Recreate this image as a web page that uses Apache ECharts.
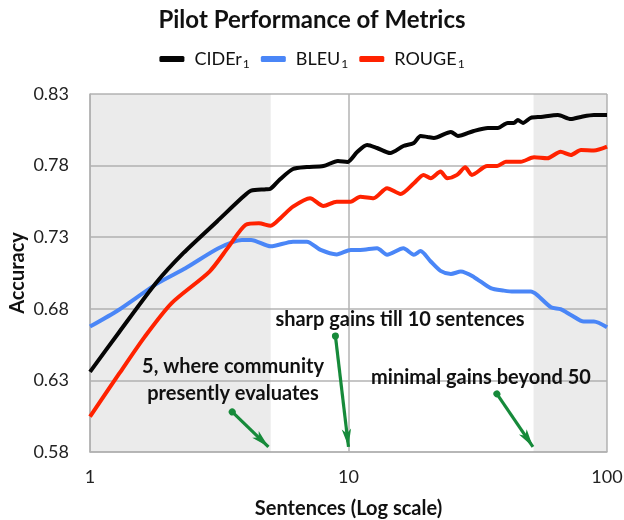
<!DOCTYPE html>
<html>
<head>
<meta charset="utf-8">
<script src="https://cdn.jsdelivr.net/npm/echarts@6/dist/echarts.min.js"></script>
<style>
  html, body { margin: 0; padding: 0; background: #fff; }
  #chart { width: 624px; height: 520px; }
</style>
</head>
<body>
<div id="chart"></div>
<script>
// values (x = sentences, y = accuracy)
var ciderX = [1, 1.3, 1.8, 2.3, 3.1, 3.9, 4.2, 4.8, 5.0, 5.4, 6.1, 6.9, 8.0, 9.1, 9.9, 10.8, 11.8, 12.9, 14.5, 16.3, 17.9, 19.0, 20.2, 21.4, 24.9, 26.5, 30.5, 34.6, 37.8, 41.3, 43.6, 45.2, 47.3, 50.7, 55.5, 64.6, 72.5, 79.3, 89, 100];
var ciderY = [0.636, 0.664, 0.698, 0.719, 0.741, 0.758, 0.7625, 0.7635, 0.764, 0.770, 0.7776, 0.779, 0.7797, 0.7832, 0.7825, 0.7895, 0.7944, 0.7923, 0.7888, 0.7937, 0.7958, 0.8007, 0.800, 0.7993, 0.8035, 0.8007, 0.8042, 0.8063, 0.8063, 0.8098, 0.8098, 0.8118, 0.8098, 0.8133, 0.814, 0.8153, 0.8125, 0.814, 0.8153, 0.8153];

var bleuX = [1, 1.29, 1.81, 2.34, 3.14, 3.87, 4.2, 5.0, 6.1, 6.9, 7.8, 9.0, 10.2, 11.1, 12.9, 14.1, 16.3, 17.9, 19.0, 20.8, 22.7, 24.9, 27.2, 30.6, 35.5, 39.9, 43.5, 50.7, 53.6, 60.7, 66.1, 72.5, 81.3, 89, 100];
var bleuY = [0.6676, 0.6792, 0.6974, 0.7083, 0.7223, 0.7281, 0.7281, 0.7236, 0.7269, 0.7269, 0.7211, 0.718, 0.7211, 0.7211, 0.7223, 0.7178, 0.7223, 0.7178, 0.7203, 0.713, 0.7065, 0.7043, 0.706, 0.7021, 0.6944, 0.6927, 0.692, 0.692, 0.6897, 0.6811, 0.6797, 0.6757, 0.6711, 0.6711, 0.6671];

var rougeX = [1, 1.3, 1.63, 2.07, 2.9, 3.44, 4.0, 4.5, 5.0, 5.5, 6.1, 7.1, 8.0, 9.0, 10.2, 11.1, 12.5, 14.1, 15.9, 17.9, 19.5, 20.8, 22.7, 24.1, 26.3, 28.3, 30.0, 34.4, 37.6, 40.6, 46.4, 52.2, 58.7, 66.1, 72.5, 79.3, 89, 100];
var rougeY = [0.6047, 0.635, 0.6606, 0.684, 0.706, 0.7234, 0.7386, 0.7397, 0.738, 0.744, 0.7513, 0.7572, 0.7518, 0.7548, 0.7548, 0.7583, 0.7572, 0.7642, 0.7602, 0.7677, 0.7735, 0.7712, 0.7758, 0.7712, 0.7735, 0.7788, 0.7735, 0.7797, 0.7797, 0.7827, 0.7827, 0.7858, 0.7851, 0.7897, 0.7874, 0.7909, 0.7905, 0.7932];

var yTicks = { min: 0.58, max: 0.83, step: 0.05 };
var shadedRanges = [[1, 5], [52, 100]];

function pairs(xs, ys) {
  var out = [];
  for (var i = 0; i < xs.length; i++) out.push([xs[i], ys[i]]);
  return out;
}

var FONT = 'Lato, "Open Sans", sans-serif';
var chart = echarts.init(document.getElementById('chart'));

var option = {
  animation: false,
  backgroundColor: '#fff',
  title: {
    text: 'Pilot Performance of Metrics',
    left: 'center',
    top: 3,
    textStyle: { fontFamily: FONT, fontSize: 24, fontWeight: 'bold', color: '#111' }
  },
  legend: {
    top: 45,
    left: 'center',
    itemWidth: 25,
    itemHeight: 6,
    itemGap: 11,
    icon: 'roundRect',
    data: ['CIDEr', 'BLEU', 'ROUGE'],
    formatter: function (name) { return '{b|' + name + '}{s|1}'; },
    textStyle: {
      fontFamily: FONT,
      rich: {
        b: { fontFamily: FONT, fontSize: 18, color: '#111', lineHeight: 26, padding: [0, 0, 0, 5] },
        s: { fontFamily: FONT, fontSize: 12, color: '#111', padding: [10, 0, 0, 1] }
      }
    }
  },
  grid: { left: 90, right: 17, top: 94, bottom: 68, containLabel: false, outerBoundsMode: 'none' },
  xAxis: {
    type: 'log',
    logBase: 10,
    min: 1,
    max: 100,
    name: 'Sentences (Log scale)',
    nameLocation: 'middle',
    nameGap: 47,
    nameTextStyle: { fontFamily: FONT, fontSize: 20, fontWeight: 'bold', color: '#111' },
    axisLine: { lineStyle: { color: '#b3b3b3', width: 1.5 } },
    axisTick: { show: false },
    splitLine: { show: true, lineStyle: { color: '#b3b3b3', width: 1.5 } },
    axisLabel: { fontFamily: FONT, fontSize: 18, color: '#222', margin: 16 }
  },
  yAxis: {
    type: 'value',
    min: yTicks.min,
    max: yTicks.max,
    interval: yTicks.step,
    name: 'Accuracy',
    nameLocation: 'middle',
    nameGap: 62,
    nameMoveOverlap: false,
    nameTextStyle: { fontFamily: FONT, fontSize: 20, fontWeight: 'bold', color: '#111' },
    axisLine: { show: true, lineStyle: { color: '#b3b3b3', width: 1.5 } },
    axisTick: { show: false },
    splitLine: { lineStyle: { color: '#b3b3b3', width: 1.5 } },
    axisLabel: {
      fontFamily: FONT, fontSize: 18, color: '#222', margin: 21,
      formatter: function (v) { return v.toFixed(2); }
    }
  },
  series: [
    {
      name: 'CIDEr', type: 'line', data: pairs(ciderX, ciderY),
      smooth: 0.25, showSymbol: false, z: 4,
      lineStyle: { color: '#050505', width: 4 }, itemStyle: { color: '#050505' }
    },
    {
      name: 'BLEU', type: 'line', data: pairs(bleuX, bleuY),
      smooth: 0.25, showSymbol: false, z: 3,
      lineStyle: { color: '#4a86f7', width: 4 }, itemStyle: { color: '#4a86f7' }
    },
    {
      name: 'ROUGE', type: 'line', data: pairs(rougeX, rougeY),
      smooth: 0.25, showSymbol: false, z: 3,
      lineStyle: { color: '#ff2200', width: 4 }, itemStyle: { color: '#ff2200' }
    },
    {
      // overlay shading + annotation arrows
      name: 'overlay', type: 'line', data: [], z: 10,
      markArea: {
        silent: true,
        itemStyle: { color: 'rgba(170,170,170,0.235)' },
        data: shadedRanges.map(function (r) { return [{ xAxis: r[0] }, { xAxis: r[1] }]; })
      },
      markLine: {
        silent: true,
        symbol: ['circle', 'arrow'],
        symbolSize: [7, 18],
        label: { show: false },
        lineStyle: { color: '#168a3a', width: 3.2, type: 'solid' },
        data: [
          [{ coord: [3.55, 0.608] }, { coord: [4.9, 0.5836] }],
          [{ coord: [8.9, 0.661] }, { coord: [10, 0.5836] }],
          [{ coord: [37.5, 0.6206] }, { coord: [51.7, 0.5836] }]
        ]
      }
    }
  ],
  graphic: [
    { type: 'text', x: 400, y: 320, z: 100,
      style: { text: 'sharp gains till 10 sentences', font: 'bold 20px ' + FONT, fill: '#111', textAlign: 'center', textVerticalAlign: 'middle' } },
    { type: 'text', x: 233, y: 380, z: 100,
      style: { text: '5, where community\npresently evaluates', font: 'bold 20px ' + FONT, fill: '#111', textAlign: 'center', textVerticalAlign: 'middle', lineHeight: 27 } },
    { type: 'text', x: 481, y: 378, z: 100,
      style: { text: 'minimal gains beyond 50', font: 'bold 20px ' + FONT, fill: '#111', textAlign: 'center', textVerticalAlign: 'middle' } }
  ]
};

chart.setOption(option);
</script>
</body>
</html>
